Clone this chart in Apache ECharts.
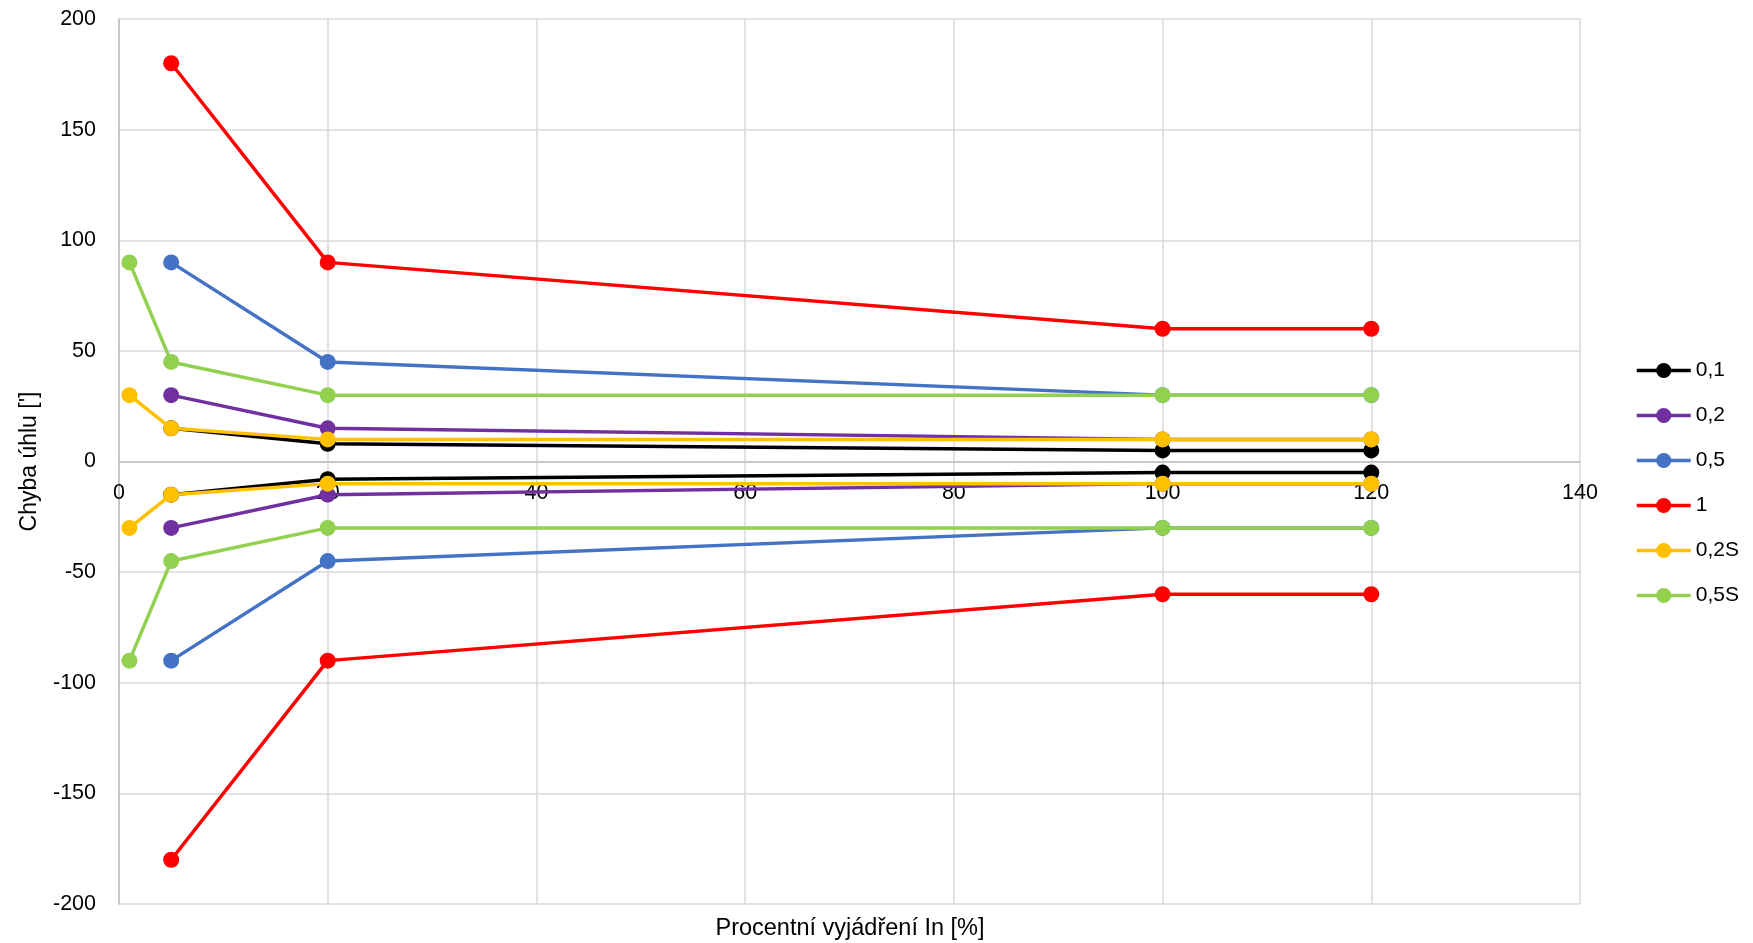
<!DOCTYPE html>
<html><head><meta charset="utf-8">
<script src="https://cdn.jsdelivr.net/npm/echarts@6/dist/echarts.min.js"></script>
<style>html,body{margin:0;padding:0;background:#fff}#c{width:1753px;height:943px}</style>
</head><body><div id="c"></div>
<script>
// Data
const classNames = ['0,1', '0,2', '0,5', '1', '0,2S', '0,5S'];
const xStd = [5, 20, 100, 120];
const xS = [1, 5, 20, 100, 120];
const upper01 = [15, 8, 5, 5];
const lower01 = [-15, -8, -5, -5];
const upper02 = [30, 15, 10, 10];
const lower02 = [-30, -15, -10, -10];
const upper05 = [90, 45, 30, 30];
const lower05 = [-90, -45, -30, -30];
const upper1 = [180, 90, 60, 60];
const lower1 = [-180, -90, -60, -60];
const upper02S = [30, 15, 10, 10, 10];
const lower02S = [-30, -15, -10, -10, -10];
const upper05S = [90, 45, 30, 30, 30];
const lower05S = [-90, -45, -30, -30, -30];
const colors = ['#000000', '#7030A0', '#4472C4', '#FF0000', '#FFC000', '#92D050'];

const groups = [
  [xStd, upper01, lower01],
  [xStd, upper02, lower02],
  [xStd, upper05, lower05],
  [xStd, upper1, lower1],
  [xS, upper02S, lower02S],
  [xS, upper05S, lower05S]
];

const series = [];
groups.forEach((g, i) => {
  [g[1], g[2]].forEach(vals => {
    series.push({
      name: classNames[i],
      type: 'line',
      data: g[0].map((x, k) => [x, vals[k]]),
      symbol: 'circle',
      symbolSize: 16,
      lineStyle: { width: 3.5, color: colors[i] },
      itemStyle: { color: colors[i] },
      emphasis: { disabled: true },
      animation: false,
      z: 2 + i
    });
  });
});

const font = 'Liberation Sans, Arial, sans-serif';
const plotTop = 19, plotBottom = 904;
const zeroOffset = -(plotBottom - plotTop) / 2;
const chart = echarts.init(document.getElementById('c'));
chart.setOption({
  animation: false,
  color: colors,
  title: {
    text: 'Procentní vyjádření In [%]',
    left: 845, top: 912, textAlign: 'center',
    textStyle: { fontFamily: font, fontSize: 23.5, fontWeight: 'normal', color: '#000' }
  },
  legend: {
    orient: 'vertical',
    left: 1630, top: 355,
    itemWidth: 54, itemHeight: 19, itemGap: 24,
    data: classNames,
    lineStyle: { width: 3.5 },
    textStyle: { fontFamily: font, fontSize: 21, color: '#000', lineHeight: 20 }
  },
  grid: { left: 119, right: 173, top: plotTop, bottom: 943 - plotBottom, containLabel: false },
  xAxis: {
    type: 'value', min: 0, max: 140, interval: 20,
    offset: zeroOffset,
    axisLine: { show: true, onZero: false, lineStyle: { color: '#BFBFBF', width: 1.5 } },
    axisTick: { show: false },
    axisLabel: { fontFamily: font, fontSize: 21.5, color: '#000', margin: 21 },
    splitLine: { show: true, lineStyle: { color: '#D9D9D9', width: 1.5 } }
  },
  yAxis: {
    type: 'value', min: -200, max: 200, interval: 50,
    name: "Chyba úhlu [']",
    nameLocation: 'middle', nameGap: 78,
    nameTextStyle: { fontFamily: font, fontSize: 23, color: '#000' },
    axisLine: { show: true, lineStyle: { color: '#BFBFBF', width: 1.5 } },
    axisTick: { show: false },
    axisLabel: { fontFamily: font, fontSize: 21.5, color: '#000', margin: 23 },
    splitLine: { show: true, lineStyle: { color: '#D9D9D9', width: 1.5 } }
  },
  series: series
});
</script></body></html>
